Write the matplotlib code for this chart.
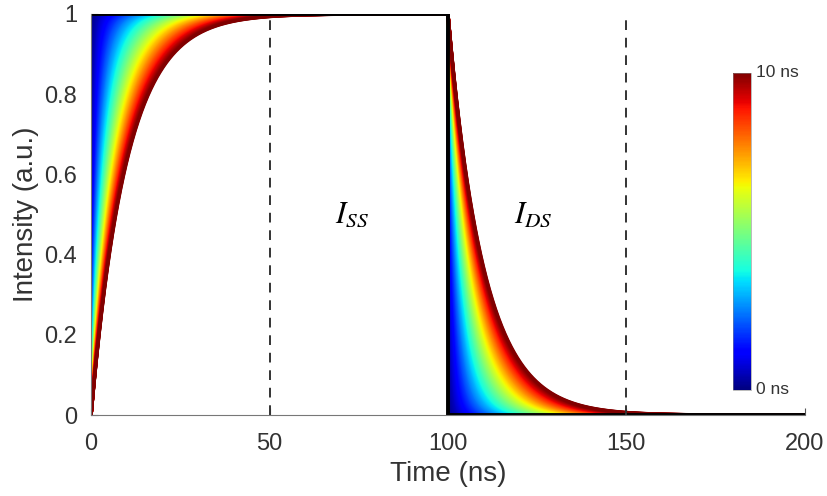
import matplotlib
matplotlib.use("Agg")
import matplotlib.pyplot as plt
import numpy as np
from matplotlib.cm import ScalarMappable
from matplotlib.colors import Normalize

# pulse: on from 0 to 100 ns, off from 100 to 200 ns
PULSE_EDGES_NS = [0, 100, 200]
# lifetime range shown by the colour bar
TAU_RANGE_NS = [0.0, 10.0]
N_CURVES = 120
DASHED_NS = [50, 150]
LABELS = [("$I_{SS}$", 73, 0.5), ("$I_{DS}$", 124, 0.5)]

plt.rcParams["font.family"] = ["Liberation Sans", "DejaVu Sans"]
plt.rcParams["mathtext.fontset"] = "stix"

t_on, t_off, t_end = PULSE_EDGES_NS
time = np.linspace(t_on, t_end, 1601)
taus = np.linspace(TAU_RANGE_NS[0], TAU_RANGE_NS[1], N_CURVES + 1)[1:]

fig = plt.figure(figsize=(8.28, 4.96), dpi=100)
ax = fig.add_axes([0.110, 0.163, 0.862, 0.809])

cmap = plt.get_cmap("jet")
norm = Normalize(*TAU_RANGE_NS)
for tau in taus:
    y = np.where(time <= t_off,
                 1 - np.exp(-(time - t_on) / tau),
                 np.exp(-(time - t_off) / tau))
    ax.plot(time, y, color=cmap(norm(tau)), lw=2.4, solid_capstyle="butt")

# ideal square pulse (tau = 0)
ax.plot([t_on, t_off, t_off, t_end], [1, 1, 0, 0], color="black", lw=2.8,
        solid_joinstyle="miter")

for xd in DASHED_NS:
    ax.plot([xd, xd], [0, 1], color="#333333", lw=1.4, ls=(0, (5, 4)))

for txt, xl, yl in LABELS:
    ax.text(xl, yl, txt, fontsize=22, ha="center", va="center")

ax.set_xlim(0, 200)
ax.set_ylim(0, 1)
ax.set_xticks([0, 50, 100, 150, 200])
ax.set_yticks([0, 0.2, 0.4, 0.6, 0.8, 1])
ax.set_yticklabels(["0", "0.2", "0.4", "0.6", "0.8", "1"])
ax.tick_params(direction="in", length=5, width=0.8, color="#555555",
               labelsize=17, labelcolor="#333333", pad=10)
ax.tick_params(axis="x", pad=13)
for s in ["top", "right"]:
    ax.spines[s].set_visible(False)
for s in ["left", "bottom"]:
    ax.spines[s].set_color("#777777")
    ax.spines[s].set_linewidth(0.8)
ax.set_xlabel("Time (ns)", fontsize=20, color="#333333", labelpad=4)
ax.set_ylabel("Intensity (a.u.)", fontsize=20, color="#333333", labelpad=4)

cax = fig.add_axes([0.885, 0.214, 0.022, 0.639])
cb = fig.colorbar(ScalarMappable(norm=norm, cmap=cmap), cax=cax)
cb.set_ticks([])
cb.outline.set_linewidth(0.4)
cb.outline.set_edgecolor("#888888")
cax.text(1.25, 1.0, "10 ns", transform=cax.transAxes, fontsize=12.5,
         color="#333333", ha="left", va="center")
cax.text(1.25, 0.0, "0 ns", transform=cax.transAxes, fontsize=12.5,
         color="#333333", ha="left", va="center")

fig.savefig("out.png", dpi=100)
